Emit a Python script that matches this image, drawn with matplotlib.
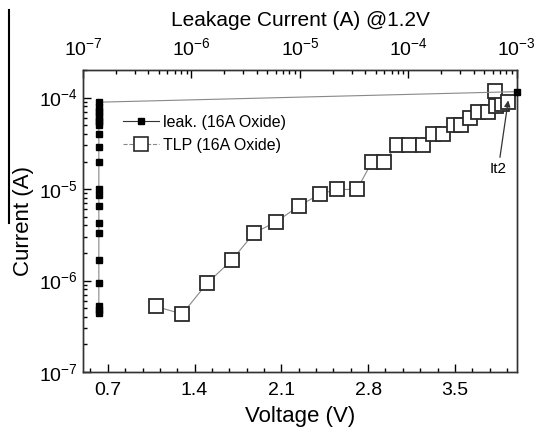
import numpy as np
import matplotlib
matplotlib.use('Agg')
import matplotlib.pyplot as plt
from matplotlib.lines import Line2D
from matplotlib.ticker import MultipleLocator, LogLocator, LogFormatterMathtext, NullFormatter

plt.rcParams['font.family'] = ['Liberation Sans', 'DejaVu Sans']
plt.rcParams['mathtext.fontset'] = 'custom'
plt.rcParams['mathtext.rm'] = 'Liberation Sans'
plt.rcParams['mathtext.it'] = 'Liberation Sans'

# TLP data (bottom axis: voltage)
tlp_v = [1.09, 1.30, 1.50, 1.70, 1.88, 2.06, 2.24, 2.41, 2.55, 2.71, 2.83, 2.93,
         3.03, 3.13, 3.24, 3.32, 3.40, 3.49, 3.55, 3.62, 3.69, 3.77, 3.83, 3.88,
         3.82, 3.93]
tlp_i = [5.2e-7, 4.3e-7, 9.3e-7, 1.67e-6, 3.3e-6, 4.4e-6, 6.5e-6, 8.8e-6, 9.9e-6,
         9.9e-6, 1.97e-5, 1.97e-5, 3.0e-5, 3.0e-5, 3.0e-5, 4.0e-5, 4.0e-5, 5.0e-5,
         5.0e-5, 6.05e-5, 6.9e-5, 6.9e-5, 8.0e-5, 8.4e-5, 1.19e-4, 8.9e-5]

# leakage data (top axis: leakage current @1.2V)
leak_x = [1.4e-7] * 21 + [1.0e-3]
leak_i = [4.4e-7, 4.8e-7, 5.3e-7, 9.4e-7, 1.67e-6, 3.3e-6, 4.3e-6, 6.5e-6, 8.5e-6,
          9.9e-6, 1.96e-5, 2.85e-5, 3.95e-5, 5.0e-5, 5.35e-5, 5.75e-5, 6.2e-5,
          6.7e-5, 7.2e-5, 7.8e-5, 8.9e-5, 1.16e-4]

fig = plt.figure(figsize=(5.39, 4.36), dpi=100)
ax = fig.add_axes([0.154, 0.1468, 0.805, 0.6926])

ax.plot(tlp_v, tlp_i, color='#888888', lw=0.8, marker='s', ms=10.5,
        mfc='white', mec='#2a2a2a', mew=1.3, zorder=3)
ax.set_yscale('log')
ax.set_ylim(1e-7, 2e-4)
ax.set_xlim(0.5, 4.0)
ax.xaxis.set_minor_locator(MultipleLocator(0.14))
ax.set_xticks([0.7, 1.4, 2.1, 2.8, 3.5])
ax.set_xticklabels(['0.7', '1.4', '2.1', '2.8', '3.5'])
ax.yaxis.set_major_locator(LogLocator(base=10))
ax.yaxis.set_minor_locator(LogLocator(base=10, subs=np.arange(2, 10)))
ax.yaxis.set_major_formatter(LogFormatterMathtext())
ax.yaxis.set_minor_formatter(NullFormatter())
ax.tick_params(which='both', direction='in', top=False, right=False, labelsize=14)
ax.tick_params(which='major', length=6, width=1)
ax.tick_params(which='minor', length=3, width=1)
ax.tick_params(axis='x', which='major', pad=7)
ax.set_xlabel('Voltage (V)', fontsize=16, labelpad=5)
ax.set_ylabel('Current (A)', fontsize=16, labelpad=4)

ax2 = ax.twiny()
ax2.set_xscale('log')
ax2.set_xlim(1e-7, 1e-3)
ax2.plot(leak_x, leak_i, color='#888888', lw=0.8, marker='s', ms=5,
         mfc='black', mec='black', clip_on=False, zorder=3)
ax2.xaxis.set_major_locator(LogLocator(base=10))
ax2.xaxis.set_minor_locator(LogLocator(base=10, subs=np.arange(2, 10)))
ax2.xaxis.set_major_formatter(LogFormatterMathtext())
ax2.xaxis.set_minor_formatter(NullFormatter())
ax2.tick_params(which='both', direction='in', labelsize=14)
ax2.tick_params(which='major', length=6, width=1, pad=8)
ax2.tick_params(which='minor', length=3, width=1)
ax2.set_xlabel('Leakage Current (A) @1.2V', fontsize=15, labelpad=8)

for a in (ax, ax2):
    for s in a.spines.values():
        s.set_linewidth(1.0)
        s.set_color('#333333')

handles = [
    Line2D([], [], color='#333333', lw=0.8, marker='s', ms=5, mfc='black', mec='black'),
    Line2D([], [], color='#888888', lw=0.8, ls='--', marker='s', ms=10, mfc='white',
           mec='#2a2a2a', mew=1.2),
]
ax.legend(handles, ['leak. (16A Oxide)', 'TLP (16A Oxide)'], loc='upper left',
          bbox_to_anchor=(0.06, 0.9), frameon=False, fontsize=11.5,
          handlelength=2.2, labelspacing=0.5, handletextpad=0.3)

ax.annotate('It2', xy=(3.93, 9.3e-5), xytext=(3.85, 2.0e-5), fontsize=11,
            ha='center', va='top',
            arrowprops=dict(arrowstyle='-|>', color='#333333', lw=0.9,
                            mutation_scale=9, shrinkA=1, shrinkB=0))

fig.add_artist(Line2D([0.0167, 0.0167], [0.977, 0.489], color='black', lw=1.5))

fig.savefig('out.png', dpi=100)
